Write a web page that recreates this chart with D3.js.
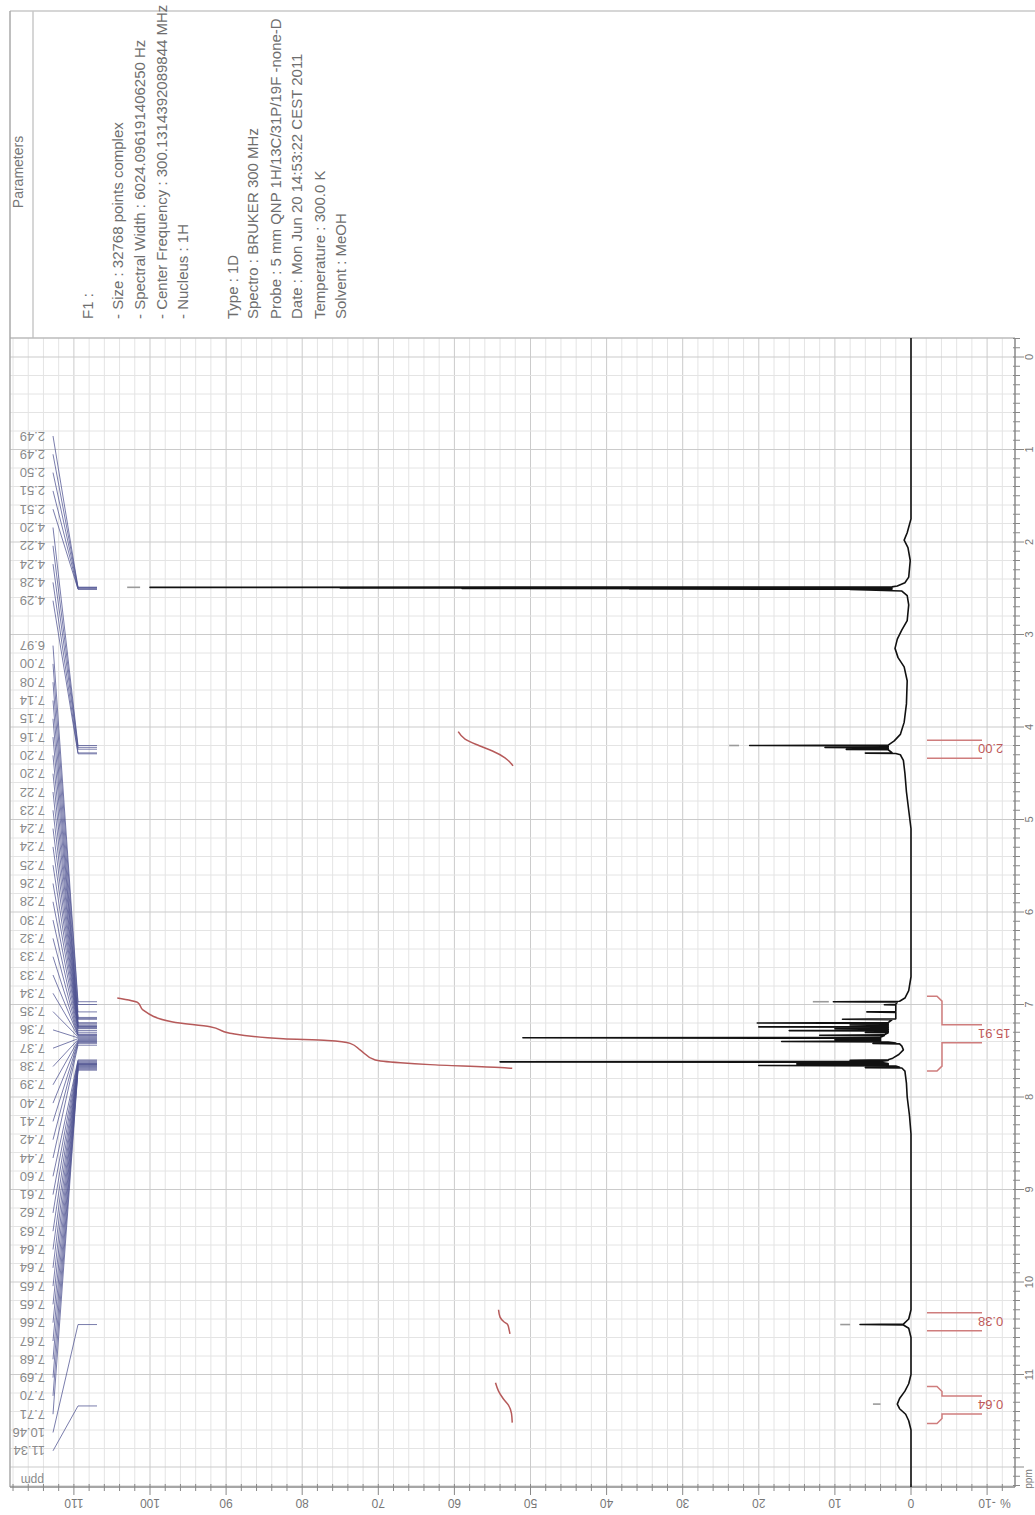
<!DOCTYPE html>
<html><head><meta charset="utf-8">
<script src="https://cdn.jsdelivr.net/npm/d3@7"></script>
<style>body{margin:0;background:#fff;overflow:hidden} text{font-family:"Liberation Sans",Arial,sans-serif}</style>
</head><body><svg id="c" width="1035" height="1515"></svg>
<script>
// ---------------- DATA ----------------
const paramHeader = "Parameters";
const paramLines = [
  "F1 :",
  "- Size : 32768 points complex",
  "- Spectral Width : 6024.096191406250 Hz",
  "- Center Frequency : 300.1314392089844 MHz",
  "- Nucleus : 1H",
  "Type : 1D",
  "Spectro : BRUKER 300 MHz",
  "Probe : 5 mm QNP 1H/13C/31P/19F -none-D",
  "Date : Mon Jun 20 14:53:22 CEST 2011",
  "Temperature : 300.0 K",
  "Solvent : MeOH"
];
const intensityTicks = [-10,0,10,20,30,40,50,60,70,80,90,100,110];
const ppmTicks = [0,1,2,3,4,5,6,7,8,9,10,11];
const peakGroup1 = [2.49,2.49,2.50,2.51,2.51,4.20,4.22,4.24,4.28,4.29];
const peakGroup2 = [6.97,7.00,7.08,7.14,7.15,7.16,7.20,7.20,7.22,7.23,7.24,7.24,7.25,7.26,7.28,7.30,7.32,7.33,
  7.33,7.34,7.35,7.36,7.37,7.38,7.39,7.40,7.41,7.42,7.44,
  7.60,7.61,7.62,7.63,7.64,7.64,7.65,7.65,7.66,7.67,7.68,7.69,7.70,7.71,10.46,11.34];
// spectrum trace (ppm, intensity %)
const tracePpm = [-0.3,1.75,1.90,1.98,2.06,2.20,2.38,2.44,2.475,2.485,2.490,2.493,2.496,2.499,2.502,2.505,2.508,2.511,2.514,2.53,2.58,2.68,
  2.85,2.95,3.05,3.15,3.25,3.35,3.50,3.75,3.95,4.08,4.15,4.195,4.200,4.205,4.218,4.222,4.226,4.238,4.242,4.246,4.278,4.282,4.286,4.30,4.36,4.50,4.70,4.90,5.10,
  6.70,6.85,6.93,6.965,6.970,6.975,6.998,7.002,7.006,7.075,7.080,7.085,7.155,7.160,7.165,7.195,7.200,7.205,7.218,7.222,7.226,7.238,7.242,7.246,7.258,7.262,7.266,
  7.278,7.282,7.286,7.298,7.302,7.306,7.328,7.332,7.336,7.355,7.360,7.365,7.378,7.382,7.386,7.395,7.400,7.405,7.418,7.422,7.426,7.45,7.49,7.54,7.58,
  7.598,7.602,7.606,7.615,7.620,7.625,7.638,7.642,7.646,7.655,7.660,7.665,7.678,7.682,7.686,7.72,7.85,8.00,8.20,8.40,
  10.30,10.40,10.455,10.460,10.465,10.50,10.60,11.00,11.10,11.18,11.26,11.32,11.37,11.43,11.50,11.60,12.4];
const traceInt = [0,0,0.5,0.9,0.4,0.1,0.3,0.8,1.8,2.5,100,2.5,75,2.5,59,2.5,37,2.5,8,1.2,0.5,0.3,
  0.5,1.2,1.8,2.1,1.7,0.9,0.5,0.6,0.9,1.4,2.2,3,21.2,3,3,11.3,3,3,8.5,3,2.5,6,2,1.4,1.0,0.8,0.6,0.3,0,
  0,0.3,0.8,1.5,10.2,1.8,2,3.5,2,2,5.8,2,2,9,2.5,3,20.2,3,3,8,3,3,20,3,3,10,3,
  3,16,3,3,6,3,3.5,12,3.5,4,51,4,4,10,4,4,17,3,2,5,1.5,1.2,1.0,1.6,2.4,
  3,8,3,4,54,4,3,15,3,3,20,2,1.5,6,1.2,0.8,0.6,0.5,0.2,0,
  0,0.3,1.0,6.7,1.0,0.3,0,0,0.3,0.8,1.5,1.8,1.5,0.7,0.3,0,0];
// faint peak tips beyond the drawn trace (ppm, from, to)
const tipPpm = [2.490, 4.200, 6.970, 10.460, 11.32];
const tipFrom = [101.3, 22.6, 10.8, 8.0, 4.0];
const tipTo = [103.0, 23.9, 12.9, 9.3, 5.0];
// integral curves
const integ200Ppm = [4.05,4.13,4.20,4.26,4.33,4.42];
const integ200Val = [59.5,58.6,56.8,55.0,53.4,52.3];
const integ1591Ppm = [6.93,6.98,7.06,7.19,7.24,7.31,7.37,7.39,7.42,7.49,7.60,7.63,7.65,7.68,7.69];
const integ1591Val = [104.3,101.6,100.9,97.0,92.1,89.5,82.5,76.7,73.7,72.4,70.4,67.1,63.2,54.0,52.4];
const integ038Ppm = [10.30,10.38,10.43,10.46,10.52,10.56];
const integ038Val = [54.2,54.0,53.5,53.0,52.8,52.7];
const integ064Ppm = [11.09,11.18,11.26,11.33,11.42,11.52];
const integ064Val = [54.6,54.2,53.6,52.9,52.5,52.4];
const integralLabels = ["2.00","15.91","0.38","0.64"];
const integralFrom = [4.10,6.91,10.36,11.13];
const integralTo = [4.38,7.72,10.50,11.53];

// ---------------- LAYOUT ----------------
const svg = d3.select("#c");
const L = 10, R = 1015, T = 338, B = 1487;
const x = d3.scaleLinear().domain([0,100]).range([911,150]);
const y = d3.scaleLinear().domain([0,11]).range([357, 357 + 11*92.5]);
const yMin = y.invert(T), yMax = y.invert(B);

// parameters box
const gP = svg.append("g");
gP.append("line").attr("x1",L).attr("x2",1035).attr("y1",11).attr("y2",11).attr("stroke","#c8c8c8").attr("stroke-width",1.5);
gP.append("line").attr("x1",33).attr("x2",33).attr("y1",11).attr("y2",T).attr("stroke","#c8c8c8").attr("stroke-width",1.5);
gP.append("text").attr("transform","translate(23,172) rotate(-90)").attr("text-anchor","middle")
  .attr("font-size",14).attr("fill","#777").text(paramHeader);
const paramX = [93,123,145,167,188,238,258,281,302,325,346];
paramLines.forEach((t,i)=>{
  gP.append("text").attr("transform",`translate(${paramX[i]},319) rotate(-90)`)
    .attr("font-size",15).attr("fill","#6e6e6e").text(t);
});

// grid
const gG = svg.append("g");
const vMinor = d3.range(-12, 119, 2).filter(v=>x(v)>L+1 && x(v)<R-1);
gG.selectAll(".vg").data(vMinor).join("line")
  .attr("x1",d=>x(d)).attr("x2",d=>x(d)).attr("y1",T).attr("y2",B)
  .attr("stroke",d=>d%10===0?"#cbcbcb":"#e4e4e4").attr("stroke-width",1);
const hMinor = d3.range(0, 12.21, 0.2).map(v=>+v.toFixed(1)).filter(v=>y(v)>T+1 && y(v)<B-1);
gG.selectAll(".hg").data(hMinor).join("line")
  .attr("x1",L).attr("x2",R).attr("y1",d=>y(d)).attr("y2",d=>y(d))
  .attr("stroke",d=>Math.abs(d-Math.round(d))<1e-6?"#cbcbcb":"#e4e4e4").attr("stroke-width",1);

// frame
svg.append("line").attr("x1",L).attr("x2",R).attr("y1",T).attr("y2",T).attr("stroke","#bbb").attr("stroke-width",1.5);
svg.append("line").attr("x1",L).attr("x2",L).attr("y1",11).attr("y2",B).attr("stroke","#aaa").attr("stroke-width",1.5);

// intensity axis (bottom)
const axB = svg.append("g").attr("transform",`translate(0,${B})`);
axB.append("line").attr("x1",L).attr("x2",R).attr("stroke","#888").attr("stroke-width",1.5);
const bMinor = d3.range(-12, 119, 2).filter(v=>x(v)>=L && x(v)<=R);
axB.selectAll(".bt").data(bMinor).join("line")
  .attr("x1",d=>x(d)).attr("x2",d=>x(d)).attr("y1",-3).attr("y2",d=>d%10===0?8:4)
  .attr("stroke","#888").attr("stroke-width",1);
axB.selectAll(".bl").data(intensityTicks).join("text")
  .attr("transform",d=>`translate(${x(d)},12) rotate(180)`)
  .attr("text-anchor","middle").attr("font-size",12).attr("fill","#777").text(d=>d);
axB.append("text").attr("transform",`translate(${x(-12.4)},12) rotate(180)`).attr("text-anchor","middle")
  .attr("font-size",12).attr("fill","#777").text("%");

// ppm axis (right)
const axR = svg.append("g").attr("transform",`translate(${R},0)`);
axR.append("line").attr("y1",T).attr("y2",B).attr("stroke","#888").attr("stroke-width",1.5);
const rMinor = d3.range(-0.2, 12.35, 0.1).map(v=>+v.toFixed(1)).filter(v=>y(v)>=T && y(v)<=B);
axR.selectAll(".rt").data(rMinor).join("line")
  .attr("y1",d=>y(d)).attr("y2",d=>y(d)).attr("x1",-2)
  .attr("x2",d=>Math.abs(d-Math.round(d))<1e-6?9:5).attr("stroke","#888").attr("stroke-width",1);
axR.selectAll(".rl").data(ppmTicks).join("text")
  .attr("transform",d=>`translate(18,${y(d)}) rotate(-90)`)
  .attr("text-anchor","middle").attr("font-size",11).attr("fill","#777").text(d=>d);
axR.append("text").attr("transform",`translate(17,${B-8}) rotate(-90)`).attr("text-anchor","middle")
  .attr("font-size",10).attr("fill","#777").text("ppm");

// spectrum trace
const trace = tracePpm.map((p,i)=>[p,traceInt[i]]);
svg.append("path").datum(trace)
  .attr("d", d3.line().x(d=>x(d[1])).y(d=>y(Math.max(yMin,Math.min(yMax,d[0])))))
  .attr("fill","none").attr("stroke","#111").attr("stroke-width",1.6).attr("stroke-linejoin","round");
// faint tips
svg.selectAll(".tip").data(tipPpm.map((p,i)=>({p,a:tipFrom[i],b:tipTo[i]}))).join("line")
  .attr("x1",d=>x(d.a)).attr("x2",d=>x(d.b)).attr("y1",d=>y(d.p)).attr("y2",d=>y(d.p))
  .attr("stroke","#9a9a9a").attr("stroke-width",1.6);

// integral curves
const iLine = d3.line().curve(d3.curveMonotoneY).x(d=>x(d[1])).y(d=>y(d[0]));
[[integ200Ppm,integ200Val],[integ1591Ppm,integ1591Val],[integ038Ppm,integ038Val],[integ064Ppm,integ064Val]]
 .forEach(([pp,vv])=>{
  svg.append("path").datum(pp.map((p,i)=>[p,vv[i]])).attr("d",iLine)
   .attr("fill","none").attr("stroke","#b65a5a").attr("stroke-width",1.5);
 });

// integral brackets
const gI = svg.append("g").attr("stroke","#cf7d7d").attr("fill","none").attr("stroke-width",1.5);
integralLabels.forEach((lab,i)=>{
  const y0 = y(integralFrom[i]), y1 = y(integralTo[i]), yc = (y0+y1)/2;
  const xa = 927, xb = 937, xc = 942, xd = 982, h = 9;
  if (yc - h - y0 > 8) {
    gI.append("path").attr("d",`M${xa},${y0}H${xb}L${xc},${y0+5}V${yc-h}H${xd}`);
    gI.append("path").attr("d",`M${xd},${yc+h}H${xc}V${y1-5}L${xb},${y1}H${xa}`);
  } else {
    gI.append("path").attr("d",`M${xa},${yc-h}H${xd}`);
    gI.append("path").attr("d",`M${xa},${yc+h}H${xd}`);
  }
  svg.append("text").attr("transform",`translate(${xd-4},${yc-5}) rotate(180)`)
    .attr("text-anchor","end").attr("font-size",13).attr("fill","#c05a5a").text(lab);
});

// peak labels + connectors
const step = 18.3;
const labels = peakGroup1.map((p,i)=>({p, ly:436+i*step}))
  .concat(peakGroup2.map((p,i)=>({p, ly:645.6+i*step})));
const gL = svg.append("g");
gL.selectAll("path").data(labels).join("path")
  .attr("d",d=>`M53,${d.ly}L78,${y(d.p)}H97`)
  .attr("fill","none").attr("stroke","#4d5190").attr("stroke-width",1).attr("stroke-opacity",0.75);
gL.selectAll("text").data(labels).join("text")
  .attr("transform",d=>`translate(45,${d.ly-4.5}) rotate(180)`)
  .attr("font-size",13).attr("fill","#8a8a8a").text(d=>d.p.toFixed(2));
svg.append("text").attr("transform",`translate(44,${B-11}) rotate(180)`)
  .attr("font-size",12).attr("fill","#8a8a8a").text("ppm");
</script></body></html>
